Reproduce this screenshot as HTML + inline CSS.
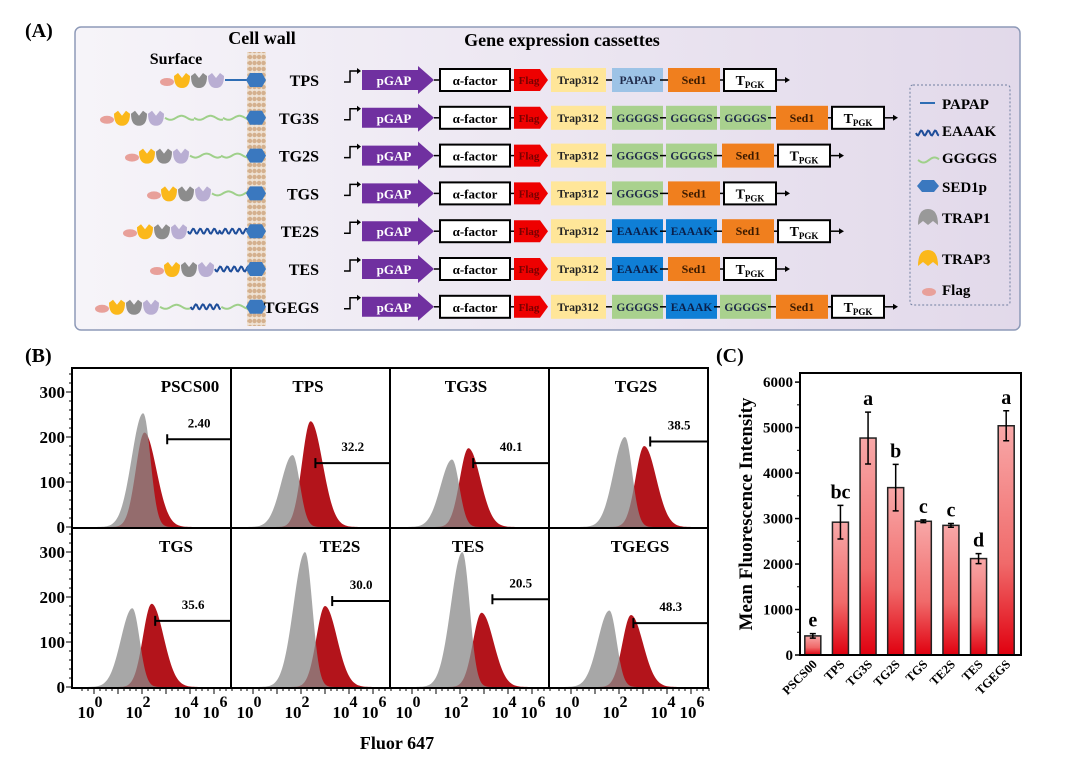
<!DOCTYPE html>
<html><head><meta charset="utf-8">
<style>
html,body{margin:0;padding:0;background:#fff;}
svg{display:block;font-family:"Liberation Serif",serif;font-weight:bold;}
</style></head>
<body>
<svg id="fig" width="1080" height="770" viewBox="0 0 1080 770">
<defs>
<linearGradient id="bgA" x1="0" y1="0" x2="1" y2="0"><stop offset="0" stop-color="#f6f4f9"/><stop offset="1" stop-color="#e2d9ea"/></linearGradient>
<linearGradient id="barG" x1="0" y1="0" x2="0" y2="1"><stop offset="0" stop-color="#f8a8a8"/><stop offset="0.6" stop-color="#f06a6a"/><stop offset="1" stop-color="#e0000f"/></linearGradient>
<pattern id="mem" width="9" height="6" patternUnits="userSpaceOnUse"><rect width="9" height="6" fill="#efe2d4"/><circle cx="2.5" cy="3" r="2.2" fill="#d4b08e"/><circle cx="7" cy="3" r="2.2" fill="#d4b08e"/></pattern>
</defs>
<text x="25" y="37" font-size="20">(A)</text>
<rect x="75" y="27" width="945" height="303" rx="6" fill="url(#bgA)" stroke="#8e9ab8" stroke-width="1.5"/>
<text x="262" y="44" font-size="18" text-anchor="middle">Cell wall</text>
<text x="176" y="64" font-size="16" text-anchor="middle">Surface</text>
<text x="562" y="46" font-size="18" text-anchor="middle">Gene expression  cassettes</text>
<rect x="247" y="52" width="19" height="274" fill="url(#mem)"/>
<g id="rowsA"></g>
<rect x="910" y="85" width="100" height="220" rx="3" fill="none" stroke="#6f7fa0" stroke-dasharray="2,2"/>
<g id="legendA"></g>
<text x="25" y="362" font-size="20">(B)</text>
<g id="panelB"></g>
<text x="397" y="749" font-size="18" text-anchor="middle">Fluor 647</text>
<text x="716" y="362" font-size="20">(C)</text>
<g id="panelC"></g>
</svg>
<script>
// ---------- Panel A data ----------
const rowNames = ["TPS","TG3S","TG2S","TGS","TE2S","TES","TGEGS"];
const rowLinkers = [["PAPAP"],["GGGGS","GGGGS","GGGGS"],["GGGGS","GGGGS"],["GGGGS"],["EAAAK","EAAAK"],["EAAAK"],["GGGGS","EAAAK","GGGGS"]];
const chainStart = [225,165,190,212,188,215,160];
const NS="http://www.w3.org/2000/svg";
function mk(tag,attrs,parent,txt){const e=document.createElementNS(NS,tag);for(const k in attrs)e.setAttribute(k,attrs[k]);if(txt!==undefined)e.textContent=txt;parent.appendChild(e);return e;}
const linkColor={PAPAP:"#9dc3e6",GGGGS:"#a9d18e",EAAAK:"#0f7fd6"};
const rowsA=document.getElementById('rowsA');
function wave(x1,x2,y,amp,per,col){let d="M"+x1+" "+y;for(let x=x1;x<=x2;x+=1){d+=" L"+x+" "+(y+amp*Math.sin((x-x1)/per*2*Math.PI)).toFixed(1);}return d;}
rowNames.forEach((name,i)=>{
  const y=80+i*37.8;
  const g=mk('g',{},rowsA);
  
  
  const cs=chainStart[i];
  const lk=rowLinkers[i];
  if(lk[0]==="PAPAP"){const l=mk('line',{x1:cs,y1:y,x2:252,y2:y,stroke:'#2e6db4','stroke-width':2},g);}
  else{const seg=(252-cs)/lk.length;lk.forEach((t,k)=>{const p=mk('path',{d:wave(cs+k*seg,cs+(k+1)*seg,y,t==="EAAAK"?2.5:2,t==="EAAAK"?7:22),fill:'none',stroke:t==="EAAAK"?'#1f4e9a':'#9fd08a','stroke-width':2},g);});}
  const shapes=[['#b9aed3','trap-lavender'],['#8c8c8c','trap1'],['#fbb81a','trap3']];
  shapes.forEach((s,k)=>{const cx=cs-9-k*17;const p=mk('path',{d:`M${cx-8} ${y-4} Q${cx-8} ${y+8} ${cx} ${y+8} Q${cx+8} ${y+8} ${cx+8} ${y-4} L${cx+4} ${y-7} L${cx} ${y-2} L${cx-4} ${y-7} Z`,fill:s[0]},g);});
  const fx=cs-9-3*17;const fl=mk('ellipse',{cx:fx+2,cy:y+2,rx:7,ry:4,fill:'#e8a09a'},g);
  const hx=mk('path',{d:`M250 ${y-7} L262 ${y-7} L266 ${y} L262 ${y+7} L250 ${y+7} L246 ${y} Z`,fill:'#3a78bf'},g);
  const lb=mk('text',{x:319,y:y+6,'font-size':16,'text-anchor':'end'},g,name);
  const pr=mk('path',{d:`M344 ${y+2} L350 ${y+2} L350 ${y-9} L358 ${y-9}`,fill:'none',stroke:'#000','stroke-width':1.5},g);
  mk('path',{d:`M357 ${y-12} L361 ${y-9} L357 ${y-6} Z`},g);
  const pg=mk('path',{d:`M362 ${y-10} L418 ${y-10} L418 ${y-14} L434 ${y} L418 ${y+14} L418 ${y+10} L362 ${y+10} Z`,fill:'#7030a0'},g);
  mk('text',{x:394,y:y+5,'font-size':13,fill:'#fff','text-anchor':'middle'},g,'pGAP');
  mk('line',{x1:434,y1:y,x2:440,y2:y,stroke:'#000','stroke-width':1.5},g);
  const af=mk('rect',{x:440,y:y-11,width:70,height:22,fill:'#fff',stroke:'#000','stroke-width':2},g);
  mk('text',{x:475,y:y+5,'font-size':13,'text-anchor':'middle'},g,'α-factor');
  mk('line',{x1:510,y1:y,x2:514,y2:y,stroke:'#000','stroke-width':1.5},g);
  const fg=mk('path',{d:`M514 ${y-11} L540 ${y-11} L548 ${y} L540 ${y+11} L514 ${y+11} Z`,fill:'#ee0000'},g);
  mk('text',{x:529,y:y+4,'font-size':11,fill:'#700','text-anchor':'middle'},g,'Flag');
  const tr=mk('rect',{x:551,y:y-12,width:55,height:24,fill:'#ffe699'},g);
  mk('text',{x:578,y:y+4,'font-size':11.5,fill:'#222','text-anchor':'middle'},g,'Trap312');
  lk.forEach((t,k)=>{const x=612+k*54;mk('line',{x1:x-6,y1:y,x2:x,y2:y,stroke:'#000','stroke-width':1.5},g);const r=mk('rect',{x:x,y:y-12,width:51,height:24,fill:linkColor[t]},g);mk('text',{x:x+25.5,y:y+4,'font-size':11.5,fill:t==="EAAAK"?'#0a1f4a':'#1f2a4a','text-anchor':'middle'},g,t);});
  const sx=612+lk.length*54+2;
  mk('line',{x1:sx-8,y1:y,x2:sx,y2:y,stroke:'#000','stroke-width':1.5},g);
  const sd=mk('rect',{x:sx,y:y-12,width:52,height:24,fill:'#f07f1e'},g);
  mk('text',{x:sx+26,y:y+4,'font-size':12,fill:'#3a1a00','text-anchor':'middle'},g,'Sed1');
  const tx=sx+56;
  mk('line',{x1:tx-4,y1:y,x2:tx,y2:y,stroke:'#000','stroke-width':1.5},g);
  const tp=mk('rect',{x:tx,y:y-11,width:52,height:22,fill:'#fff',stroke:'#000','stroke-width':2},g);
  const tt=mk('text',{x:tx+26,y:y+5,'font-size':14,'text-anchor':'middle'},g);mk('tspan',{},tt,'T');mk('tspan',{'font-size':9,dy:3},tt,'PGK');
  mk('line',{x1:tx+52,y1:y,x2:tx+62,y2:y,stroke:'#000','stroke-width':1.5},g);
  mk('path',{d:`M${tx+61} ${y-3} L${tx+66} ${y} L${tx+61} ${y+3} Z`},g);
});
const legNames=["PAPAP","EAAAK","GGGGS","SED1p","TRAP1","TRAP3","Flag"];
const legY=[103,130,157,186,217,258,289];
const legA=document.getElementById('legendA');
legNames.forEach((n,i)=>{
  const y=legY[i];const g=mk('g',{},legA);
  
  
  if(i===0)mk('line',{x1:920,y1:y,x2:935,y2:y,stroke:'#2e6db4','stroke-width':2},g);
  if(i===1)mk('path',{d:wave(916,939,y+3,2.5,7),fill:'none',stroke:'#1f4e9a','stroke-width':2},g);
  if(i===2)mk('path',{d:wave(918,939,y+3,2.5,22),fill:'none',stroke:'#9fd08a','stroke-width':2},g);
  if(i===3)mk('path',{d:`M922 ${y-6} L934 ${y-6} L939 ${y} L934 ${y+6} L922 ${y+6} L917 ${y} Z`,fill:'#3a78bf'},g);
  if(i===4||i===5){const c=i===4?'#999':'#fbb81a';mk('path',{d:`M918 ${y+8} Q918 ${y-8} 928 ${y-8} Q938 ${y-8} 938 ${y+8} L933 ${y+4} L928 ${y+8} L923 ${y+4} Z`,fill:c},g);}
  if(i===6)mk('ellipse',{cx:929,cy:y+3,rx:7,ry:4,fill:'#e8a09a'},g);
  mk('text',{x:942,y:y+6,'font-size':15},g,n);
});

// ---------- Panel B data ----------
const histNames=["PSCS00","TPS","TG3S","TG2S","TGS","TE2S","TES","TGEGS"];
const grayPeakLog=[2.05,1.65,1.67,2.25,1.6,2.17,2.1,1.6];
const grayPeakCount=[253,160,150,200,175,300,300,170];
const redPeakLog=[2.1,2.4,2.35,3.05,2.4,3.0,2.9,2.5];
const redPeakCount=[210,235,175,180,185,180,165,160];
const gatePercent=["2.40","32.2","40.1","38.5","35.6","30.0","20.5","48.3"];
const gateStartLog=[3.05,2.6,2.55,3.3,2.55,3.3,3.35,2.6];
const gateLevel=[195,142,142,190,147,191,195,142];
const titleOffset=[118,77,76,87,104,109,78,91];
const yTicks=[0,100,200,300];
const xTickExp=[0,2,4,6];
const xTickLabelPos=[18,66,114,143];
const PB=document.getElementById('panelB');
const pX0=72,pW=159,pY0=368,pH=160;
function lx(L){return 22+24*L;}
function cy(c){return 0.45*c;}
function histPath(x0,base,peakL,peakC,sl,sr){
  let d=`M${x0} ${base}`;
  for(let px=0;px<=pW;px+=1){const L=(px-22)/24;const s=L<peakL?sl:sr;const v=peakC*Math.exp(-Math.pow((L-peakL)/s,2)/2);d+=` L${(x0+px)} ${(base-cy(v)).toFixed(1)}`;}
  return d+` L${x0+pW} ${base} Z`;
}
histNames.forEach((n,i)=>{
  const col=i%4,row=Math.floor(i/4);
  const x0=pX0+col*pW,y0=pY0+row*pH,base=y0+pH-1;
  const g=mk('g',{},PB);
  
  
  const rp=mk('path',{d:histPath(x0,base,redPeakLog[i],redPeakCount[i],0.36,0.5),fill:'#b3141b'},g);
  
  
  const gp=mk('path',{d:histPath(x0,base,grayPeakLog[i],grayPeakCount[i],0.48,0.3),fill:'#8a8a8a','fill-opacity':0.75},g);
  
  
  const gx=x0+lx(gateStartLog[i]),gy=base-cy(gateLevel[i]);
  const gl=mk('line',{x1:gx,y1:gy,x2:x0+pW,y2:gy,stroke:'#000','stroke-width':2},g);
  
  
  mk('line',{x1:gx,y1:gy-5,x2:gx,y2:gy+5,stroke:'#000','stroke-width':2},g);
  const gt=mk('text',{x:(gx+x0+pW)/2,y:gy-12,'font-size':13,'text-anchor':'middle'},g,gatePercent[i]);
  
  
  const tt=mk('text',{x:x0+titleOffset[i],y:y0+24,'font-size':17,'text-anchor':'middle'},g,n);
  
  
  mk('rect',{x:x0,y:y0,width:pW,height:pH,fill:'none',stroke:'#000','stroke-width':2},g);
});
[0,1].forEach(row=>{
  const base=pY0+row*pH+pH-1;
  for(let v=0;v<=340;v+=20){mk('line',{x1:pX0-(v%100===0?6:3),y1:base-cy(v),x2:pX0,y2:base-cy(v),stroke:'#000','stroke-width':1},PB);}
  yTicks.forEach(v=>{const t=mk('text',{x:pX0-7,y:base-cy(v)+6,'font-size':17,'text-anchor':'end'},PB,String(v));});
});
const xb=pY0+2*pH;
for(let c=0;c<4;c++){
  const x0=pX0+c*pW;
  for(let L=-0.5;L<=5.75;L+=0.25){const major=Math.abs(L-Math.round(L))<1e-6;mk('line',{x1:x0+lx(L),y1:xb,x2:x0+lx(L),y2:xb+(major?6:3),stroke:'#000','stroke-width':1},PB);}
  xTickExp.forEach((e,k)=>{const t=mk('text',{x:x0+xTickLabelPos[k],y:xb+30,'font-size':17,'text-anchor':'middle'},PB);mk('tspan',{},t,'10');mk('tspan',{dy:-11,'font-size':16},t,String(e));});
}

// ---------- Panel C data ----------
const barCats=["PSCS00","TPS","TG3S","TG2S","TGS","TE2S","TES","TGEGS"];
const barMeans=[420,2920,4770,3680,2940,2850,2120,5040];
const barErrs=[50,370,570,510,30,40,110,330];
const barLetters=["e","bc","a","b","c","c","d","a"];
const cTicks=[0,1000,2000,3000,4000,5000,6000];
const PC=document.getElementById('panelC');
const cL=800,cR=1021,cT=373,cB=655,yMax=6200;
function ys(v){return cB-(v/yMax)*(cB-cT);}
const bw=(cR-cL)/barCats.length;
function xs(i){return cL+bw*(i+0.5)-1;}
barCats.forEach((n,i)=>{
  const x=xs(i),w=16;
  const r=mk('rect',{x:x-w/2,y:ys(barMeans[i]),width:w,height:cB-ys(barMeans[i]),fill:'url(#barG)',stroke:'#222','stroke-width':1.5},PC);
  
  
  const t=ys(barMeans[i]+barErrs[i]),b=ys(barMeans[i]-barErrs[i]);
  const eb=mk('path',{d:`M${x} ${t} L${x} ${b} M${x-3} ${t} L${x+3} ${t} M${x-3} ${b} L${x+3} ${b}`,stroke:'#000','stroke-width':1.5,fill:'none'},PC);
  
  
  const lt=mk('text',{x:x,y:t-7,'font-size':20,'text-anchor':'middle'},PC,barLetters[i]);
  
  
  const xl=mk('text',{x:x+5,y:cB+10,'font-size':12.5,'text-anchor':'end',transform:`rotate(-45 ${x+5} ${cB+10})`},PC,n);
  
  
});
cTicks.forEach(v=>{
  mk('line',{x1:cL-5,y1:ys(v),x2:cL,y2:ys(v),stroke:'#000','stroke-width':1.5},PC);
  if(v+500<yMax)mk('line',{x1:cL-3,y1:ys(v+500),x2:cL,y2:ys(v+500),stroke:'#000','stroke-width':1},PC);
  const t=mk('text',{x:cL-7,y:ys(v)+5,'font-size':15,'text-anchor':'end'},PC,String(v));
  
  
});
const fr=mk('rect',{x:cL,y:cT,width:cR-cL,height:cB-cT,fill:'none',stroke:'#000','stroke-width':2},PC);


const yt=mk('text',{x:752,y:(cT+cB)/2,'font-size':19,'text-anchor':'middle',transform:`rotate(-90 752 ${(cT+cB)/2})`},PC,'Mean Fluorescence Intensity');


</script>
</body></html>
